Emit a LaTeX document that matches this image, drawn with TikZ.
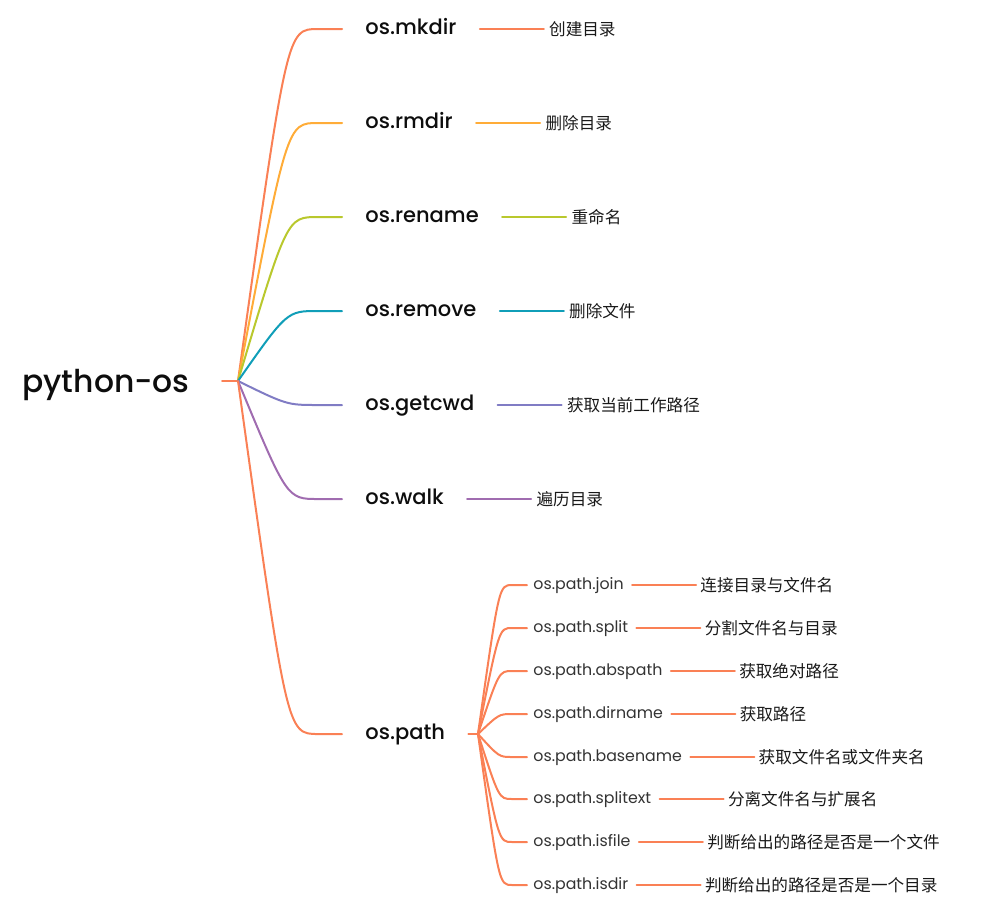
\documentclass[tikz,border=0pt]{standalone}
\usepackage{fontspec}
\setmainfont{Poppins}
\newfontfamily\medfont{Poppins}[UprightFont=* Medium]
\newfontfamily\cjk{Noto Sans CJK SC}
\usetikzlibrary{positioning}

\definecolor{brcoral}{RGB}{250,128,85}
\definecolor{brorange}{RGB}{255,172,56}
\definecolor{brlime}{RGB}{185,200,45}
\definecolor{brteal}{RGB}{16,158,184}
\definecolor{brslate}{RGB}{128,124,196}
\definecolor{brpurple}{RGB}{160,108,176}

\tikzset{
  rootlbl/.style={font=\medfont\fontsize{15.7}{18}\selectfont, text=black!95, inner sep=0pt, anchor=west, text height=8.6pt, text depth=0pt},
  mainlbl/.style={font=\medfont\fontsize{10.5}{13}\selectfont, text=black!95, inner sep=0pt, anchor=west, text height=5.6pt, text depth=0pt},
  sublbl/.style={font=\fontsize{7.9}{10}\selectfont, text=black!80, inner sep=0pt, anchor=west, text height=4.3pt, text depth=0pt},
  cnlbl/.style={font=\cjk\fontsize{8.3}{10}\selectfont, text=black!90, inner sep=0pt, text height=6.3pt, text depth=0pt},
  branch/.style={line width=1pt, line cap=round},
}

\begin{document}
\begin{tikzpicture}[x=0.5pt,y=-0.5pt]
    \useasboundingbox (0,0) rectangle (988,900);

    % Root
    \node[rootlbl] (root) at (22,384) {python-os};
    \coordinate (rootend) at (222,381);
    \coordinate (hub) at (238,381);
    \draw[branch, brcoral] (rootend) -- (hub);

    % Main branches
    \node[mainlbl] (mkdir) at (365,29) {os.mkdir};
    \node[cnlbl, right=46pt of mkdir] (mkdirtxt) {创建目录};
    \draw[branch, brcoral] (hub) .. controls ([xshift=-39pt]mkdir.west) and ([xshift=-39pt]mkdir.west) .. ([xshift=-23.5pt]mkdir.west) -- ([xshift=-11.5pt]mkdir.west);
    \draw[branch, brcoral] ([xshift=11.5pt]mkdir.east) -- ([xshift=-2.5pt]mkdirtxt.west);

    \node[mainlbl] (rmdir) at (365,123) {os.rmdir};
    \node[cnlbl, right=46pt of rmdir] (rmdirtxt) {删除目录};
    \draw[branch, brorange] (hub) .. controls ([xshift=-39pt]rmdir.west) and ([xshift=-39pt]rmdir.west) .. ([xshift=-23.5pt]rmdir.west) -- ([xshift=-11.5pt]rmdir.west);
    \draw[branch, brorange] ([xshift=11.5pt]rmdir.east) -- ([xshift=-2.5pt]rmdirtxt.west);

    \node[mainlbl] (rename) at (365,217) {os.rename};
    \node[cnlbl, right=46pt of rename] (renametxt) {重命名};
    \draw[branch, brlime] (hub) .. controls ([xshift=-39pt]rename.west) and ([xshift=-39pt]rename.west) .. ([xshift=-23.5pt]rename.west) -- ([xshift=-11.5pt]rename.west);
    \draw[branch, brlime] ([xshift=11.5pt]rename.east) -- ([xshift=-2.5pt]renametxt.west);

    \node[mainlbl] (remove) at (365,311) {os.remove};
    \node[cnlbl, right=46pt of remove] (removetxt) {删除文件};
    \draw[branch, brteal] (hub) .. controls ([xshift=-39pt]remove.west) and ([xshift=-39pt]remove.west) .. ([xshift=-23.5pt]remove.west) -- ([xshift=-11.5pt]remove.west);
    \draw[branch, brteal] ([xshift=11.5pt]remove.east) -- ([xshift=-2.5pt]removetxt.west);

    \node[mainlbl] (getcwd) at (365,405) {os.getcwd};
    \node[cnlbl, right=46pt of getcwd] (getcwdtxt) {获取当前工作路径};
    \draw[branch, brslate] (hub) .. controls ([xshift=-39pt]getcwd.west) and ([xshift=-39pt]getcwd.west) .. ([xshift=-23.5pt]getcwd.west) -- ([xshift=-11.5pt]getcwd.west);
    \draw[branch, brslate] ([xshift=11.5pt]getcwd.east) -- ([xshift=-2.5pt]getcwdtxt.west);

    \node[mainlbl] (walk) at (365,499) {os.walk};
    \node[cnlbl, right=46pt of walk] (walktxt) {遍历目录};
    \draw[branch, brpurple] (hub) .. controls ([xshift=-39pt]walk.west) and ([xshift=-39pt]walk.west) .. ([xshift=-23.5pt]walk.west) -- ([xshift=-11.5pt]walk.west);
    \draw[branch, brpurple] ([xshift=11.5pt]walk.east) -- ([xshift=-2.5pt]walktxt.west);

    \node[mainlbl] (ospath) at (365,734) {os.path};
    \draw[branch, brcoral] (hub) .. controls ([xshift=-39pt]ospath.west) and ([xshift=-39pt]ospath.west) .. ([xshift=-23.5pt]ospath.west) -- ([xshift=-11.5pt]ospath.west);
    \coordinate (phub) at (478,734);
    \draw[branch, brcoral] ([xshift=11.5pt]ospath.east) -- (phub);

    % os.path children
    \node[sublbl] (join) at (533,585) {os.path.join};
    \node[cnlbl, right=38pt of join] (jointxt) {连接目录与文件名};
    \draw[branch, brcoral] (phub) .. controls ([xshift=-17pt]join.west) and ([xshift=-17pt]join.west) .. ([xshift=-10.5pt]join.west) -- ([xshift=-3pt]join.west);
    \draw[branch, brcoral] ([xshift=4pt]join.east) -- ([xshift=-2pt]jointxt.west);

    \node[sublbl] (split) at (533,628) {os.path.split};
    \node[cnlbl, right=38pt of split] (splittxt) {分割文件名与目录};
    \draw[branch, brcoral] (phub) .. controls ([xshift=-17pt]split.west) and ([xshift=-17pt]split.west) .. ([xshift=-10.5pt]split.west) -- ([xshift=-3pt]split.west);
    \draw[branch, brcoral] ([xshift=4pt]split.east) -- ([xshift=-2pt]splittxt.west);

    \node[sublbl] (abspath) at (533,671) {os.path.abspath};
    \node[cnlbl, right=38pt of abspath] (abspathtxt) {获取绝对路径};
    \draw[branch, brcoral] (phub) .. controls ([xshift=-17pt]abspath.west) and ([xshift=-17pt]abspath.west) .. ([xshift=-10.5pt]abspath.west) -- ([xshift=-3pt]abspath.west);
    \draw[branch, brcoral] ([xshift=4pt]abspath.east) -- ([xshift=-2pt]abspathtxt.west);

    \node[sublbl] (dirname) at (533,714) {os.path.dirname};
    \node[cnlbl, right=38pt of dirname] (dirnametxt) {获取路径};
    \draw[branch, brcoral] (phub) .. controls ([xshift=-17pt]dirname.west) and ([xshift=-17pt]dirname.west) .. ([xshift=-10.5pt]dirname.west) -- ([xshift=-3pt]dirname.west);
    \draw[branch, brcoral] ([xshift=4pt]dirname.east) -- ([xshift=-2pt]dirnametxt.west);

    \node[sublbl] (basename) at (533,757) {os.path.basename};
    \node[cnlbl, right=38pt of basename] (basenametxt) {获取文件名或文件夹名};
    \draw[branch, brcoral] (phub) .. controls ([xshift=-17pt]basename.west) and ([xshift=-17pt]basename.west) .. ([xshift=-10.5pt]basename.west) -- ([xshift=-3pt]basename.west);
    \draw[branch, brcoral] ([xshift=4pt]basename.east) -- ([xshift=-2pt]basenametxt.west);

    \node[sublbl] (splitext) at (533,799) {os.path.splitext};
    \node[cnlbl, right=38pt of splitext] (splitexttxt) {分离文件名与扩展名};
    \draw[branch, brcoral] (phub) .. controls ([xshift=-17pt]splitext.west) and ([xshift=-17pt]splitext.west) .. ([xshift=-10.5pt]splitext.west) -- ([xshift=-3pt]splitext.west);
    \draw[branch, brcoral] ([xshift=4pt]splitext.east) -- ([xshift=-2pt]splitexttxt.west);

    \node[sublbl] (isfile) at (533,842) {os.path.isfile};
    \node[cnlbl, right=38pt of isfile] (isfiletxt) {判断给出的路径是否是一个文件};
    \draw[branch, brcoral] (phub) .. controls ([xshift=-17pt]isfile.west) and ([xshift=-17pt]isfile.west) .. ([xshift=-10.5pt]isfile.west) -- ([xshift=-3pt]isfile.west);
    \draw[branch, brcoral] ([xshift=4pt]isfile.east) -- ([xshift=-2pt]isfiletxt.west);

    \node[sublbl] (isdir) at (533,885) {os.path.isdir};
    \node[cnlbl, right=38pt of isdir] (isdirtxt) {判断给出的路径是否是一个目录};
    \draw[branch, brcoral] (phub) .. controls ([xshift=-17pt]isdir.west) and ([xshift=-17pt]isdir.west) .. ([xshift=-10.5pt]isdir.west) -- ([xshift=-3pt]isdir.west);
    \draw[branch, brcoral] ([xshift=4pt]isdir.east) -- ([xshift=-2pt]isdirtxt.west);
\end{tikzpicture}
\end{document}
